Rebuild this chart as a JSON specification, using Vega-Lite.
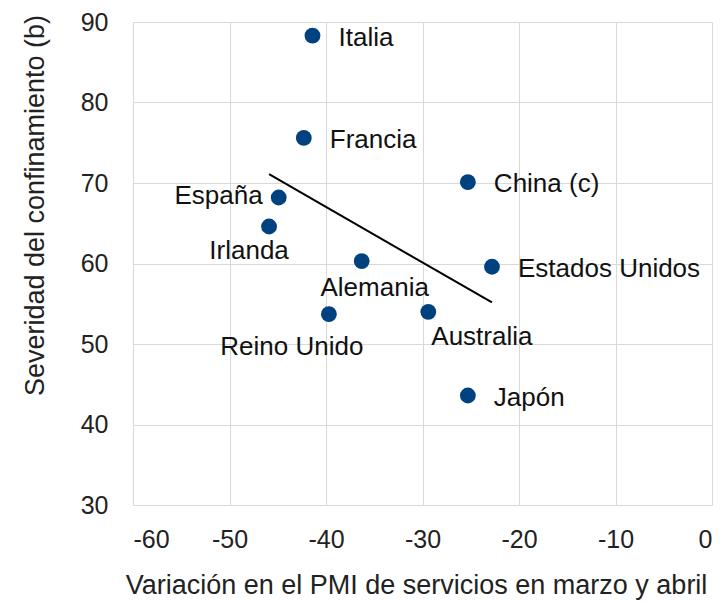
{
  "$schema": "https://vega.github.io/schema/vega-lite/v6.json",
  "autosize": {"type": "none"},
  "width": 579,
  "height": 483,
  "padding": {"left": 133, "top": 22, "right": 8, "bottom": 99},
  "background": "white",
  "config": {
    "view": {"stroke": null},
    "font": "Liberation Sans",
    "axis": {
      "labelFont": "Liberation Sans",
      "titleFont": "Liberation Sans",
      "labelFontSize": 25,
      "labelColor": "#222222",
      "titleColor": "#222222",
      "titleFontWeight": "normal",
      "gridColor": "#d9d9d9",
      "gridWidth": 1,
      "domain": false,
      "ticks": false
    }
  },
  "data": {
    "values": [
      {"pais": "Italia", "pmi": -41.4, "sev": 88.3},
      {"pais": "Francia", "pmi": -42.3, "sev": 75.6},
      {"pais": "China (c)", "pmi": -25.3, "sev": 70.1},
      {"pais": "España", "pmi": -44.9, "sev": 68.2},
      {"pais": "Irlanda", "pmi": -45.9, "sev": 64.6},
      {"pais": "Alemania", "pmi": -36.3, "sev": 60.3},
      {"pais": "Estados Unidos", "pmi": -22.8, "sev": 59.6},
      {"pais": "Reino Unido", "pmi": -39.7, "sev": 53.7},
      {"pais": "Australia", "pmi": -29.4, "sev": 54.0},
      {"pais": "Japón", "pmi": -25.3, "sev": 43.6}
    ]
  },
  "encoding": {
    "x": {
      "field": "pmi", "type": "quantitative",
      "scale": {"domain": [-60, 0], "nice": false},
      "axis": {
        "values": [-60, -50, -40, -30, -20, -10, 0],
        "labelExpr": "'' + datum.value",
        "labelPadding": 22,
        "title": "Variación en el PMI de servicios en marzo y abril",
        "titleFontSize": 27,
        "titleX": 283,
        "titleY": 88,
        "titleAlign": "center",
        "titleBaseline": "alphabetic"
      }
    },
    "y": {
      "field": "sev", "type": "quantitative",
      "scale": {"domain": [30, 90], "nice": false, "zero": false},
      "axis": {
        "values": [30, 40, 50, 60, 70, 80, 90],
        "labelPadding": 25,
        "title": "Severidad del confinamiento (b)",
        "titleFontSize": 27,
        "titleX": -90,
        "titleY": 183,
        "titleAlign": "center",
        "titleBaseline": "alphabetic",
        "titleAngle": -90
      }
    }
  },
  "layer": [
    {
      "transform": [{"regression": "sev", "on": "pmi"}],
      "mark": {"type": "line", "color": "#000000", "strokeWidth": 2}
    },
    {
      "mark": {"type": "circle", "size": 250, "opacity": 1, "color": "#00427f"}
    },
    {
      "transform": [{"filter": {"field": "pais", "oneOf": ["Italia", "Francia", "China (c)", "Estados Unidos", "Japón"]}}],
      "mark": {"type": "text", "align": "left", "baseline": "middle", "dx": 26, "dy": 2, "fontSize": 26, "color": "#111111"},
      "encoding": {"text": {"field": "pais"}}
    },
    {
      "transform": [{"filter": {"field": "pais", "equal": "España"}}],
      "mark": {"type": "text", "align": "right", "baseline": "middle", "dx": -16, "dy": -1, "fontSize": 26, "color": "#111111"},
      "encoding": {"text": {"field": "pais"}}
    },
    {
      "transform": [{"filter": {"field": "pais", "equal": "Irlanda"}}],
      "mark": {"type": "text", "align": "center", "baseline": "middle", "dx": -20, "dy": 25, "fontSize": 26, "color": "#111111"},
      "encoding": {"text": {"field": "pais"}}
    },
    {
      "transform": [{"filter": {"field": "pais", "equal": "Alemania"}}],
      "mark": {"type": "text", "align": "center", "baseline": "middle", "dx": 13, "dy": 27, "fontSize": 26, "color": "#111111"},
      "encoding": {"text": {"field": "pais"}}
    },
    {
      "transform": [{"filter": {"field": "pais", "equal": "Reino Unido"}}],
      "mark": {"type": "text", "align": "center", "baseline": "middle", "dx": -37, "dy": 33, "fontSize": 26, "color": "#111111"},
      "encoding": {"text": {"field": "pais"}}
    },
    {
      "transform": [{"filter": {"field": "pais", "equal": "Australia"}}],
      "mark": {"type": "text", "align": "left", "baseline": "middle", "dx": 3, "dy": 25, "fontSize": 26, "color": "#111111"},
      "encoding": {"text": {"field": "pais"}}
    }
  ]
}
